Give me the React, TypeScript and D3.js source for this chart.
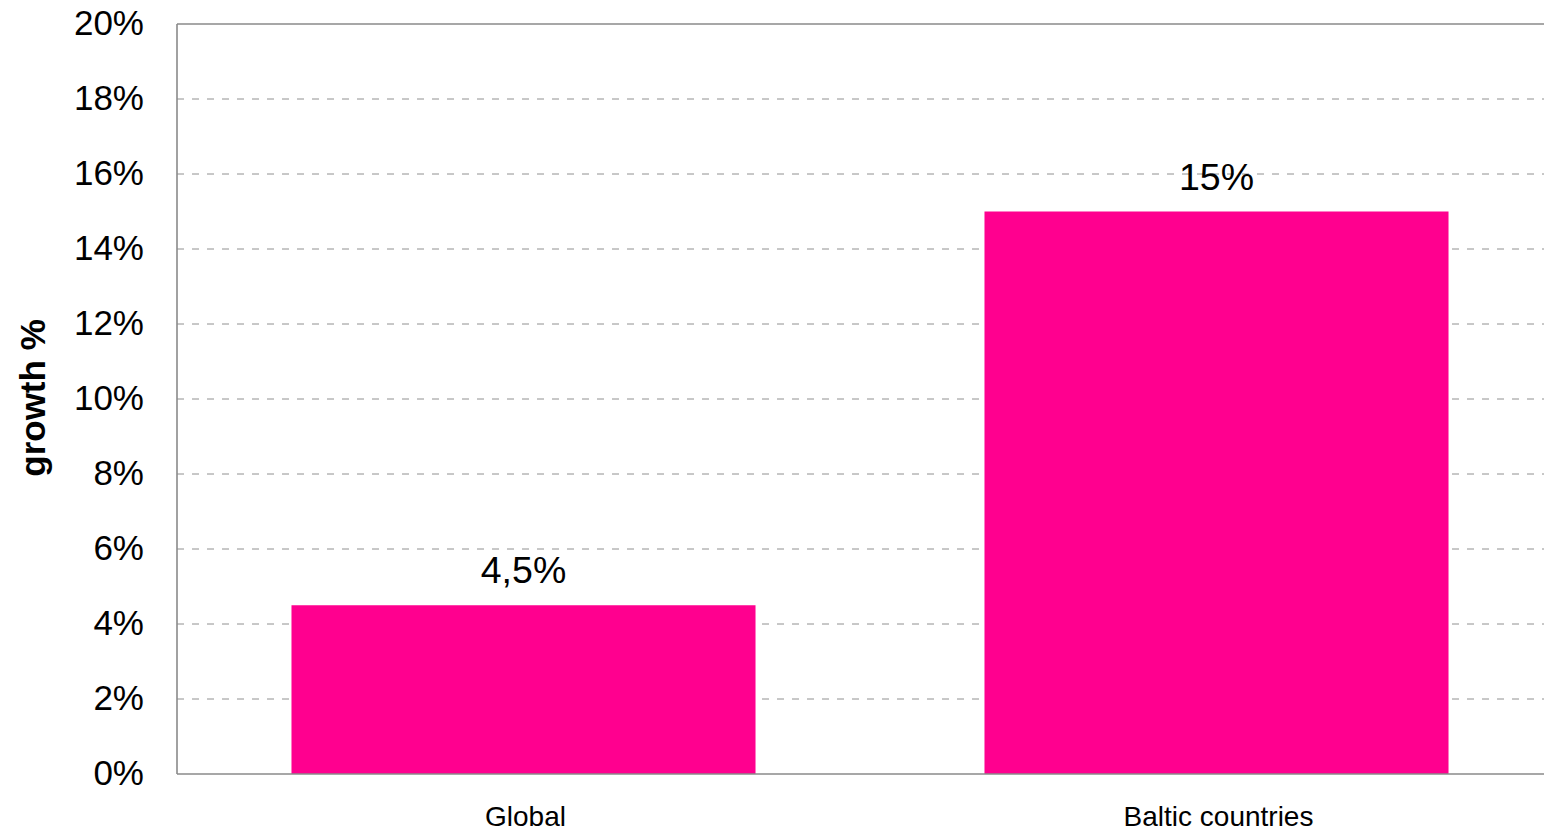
import React from "react";
import * as d3 from "d3";

const categories = ["Global", "Baltic countries"];
const values = [0.045, 0.15];
const valueLabels = ["4,5%", "15%"];
const yTicks = [0, 0.02, 0.04, 0.06, 0.08, 0.1, 0.12, 0.14, 0.16, 0.18, 0.2];
const yTitle = "growth %";

const W = 1544;
const H = 831;
const FONT = "'Liberation Sans', Arial, Helvetica, sans-serif";

export default function App() {
  const left = 177;
  const right = 1563;
  const top = 24;
  const bottom = 774;

  const x = d3
    .scaleBand<string>()
    .domain(categories)
    .range([left, right])
    .paddingInner(0.3304)
    .paddingOuter(0.1652);
  const y = d3.scaleLinear().domain([0, 0.2]).range([bottom, top]);
  const fmt = (v: number) => `${Math.round(v * 100)}%`;

  return (
    <svg
      width={W}
      height={H}
      style={{ position: "fixed", left: 0, top: 0, background: "#fff" }}
      fontFamily={FONT}
    >
      <rect x={0} y={0} width={W} height={H} fill="#fff" />
      {yTicks
        .filter((t) => t > 0 && t < 0.2)
        .map((t) => (
          <line
            key={`g${t}`}
            x1={left}
            x2={right}
            y1={y(t)}
            y2={y(t)}
            stroke="#909090"
            strokeWidth={1}
            strokeDasharray="7,8"
          />
        ))}
      {categories.map((c, i) => (
        <rect
          key={c}
          x={x(c)}
          y={y(values[i])}
          width={x.bandwidth()}
          height={y(0) - y(values[i])}
          fill="#ff008f"
        />
      ))}
      <line x1={left} x2={right} y1={y(0.2)} y2={y(0.2)} stroke="#8a8a8a" strokeWidth={1.6} />
      <line x1={left} x2={right} y1={y(0)} y2={y(0)} stroke="#8a8a8a" strokeWidth={1.6} />
      <line x1={left} x2={left} y1={top} y2={bottom} stroke="#8a8a8a" strokeWidth={1.6} />
      {yTicks.map((t) => (
        <text
          key={`t${t}`}
          x={144}
          y={y(t) + 11}
          textAnchor="end"
          fontSize={35}
          fill="#000"
        >
          {fmt(t)}
        </text>
      ))}
      {categories.map((c, i) => (
        <text
          key={`l${c}`}
          x={(x(c) as number) + x.bandwidth() / 2 + 2}
          y={826}
          textAnchor="middle"
          fontSize={28}
          fill="#000"
        >
          {c}
        </text>
      ))}
      {categories.map((c, i) => (
        <text
          key={`v${c}`}
          x={(x(c) as number) + x.bandwidth() / 2}
          y={y(values[i]) - 22}
          textAnchor="middle"
          fontSize={37.5}
          fill="#000"
        >
          {valueLabels[i]}
        </text>
      ))}
      <text
        transform={`translate(45, 398) rotate(-90)`}
        textAnchor="middle"
        fontSize={35}
        fontWeight="bold"
        fill="#000"
      >
        {yTitle}
      </text>
    </svg>
  );
}
